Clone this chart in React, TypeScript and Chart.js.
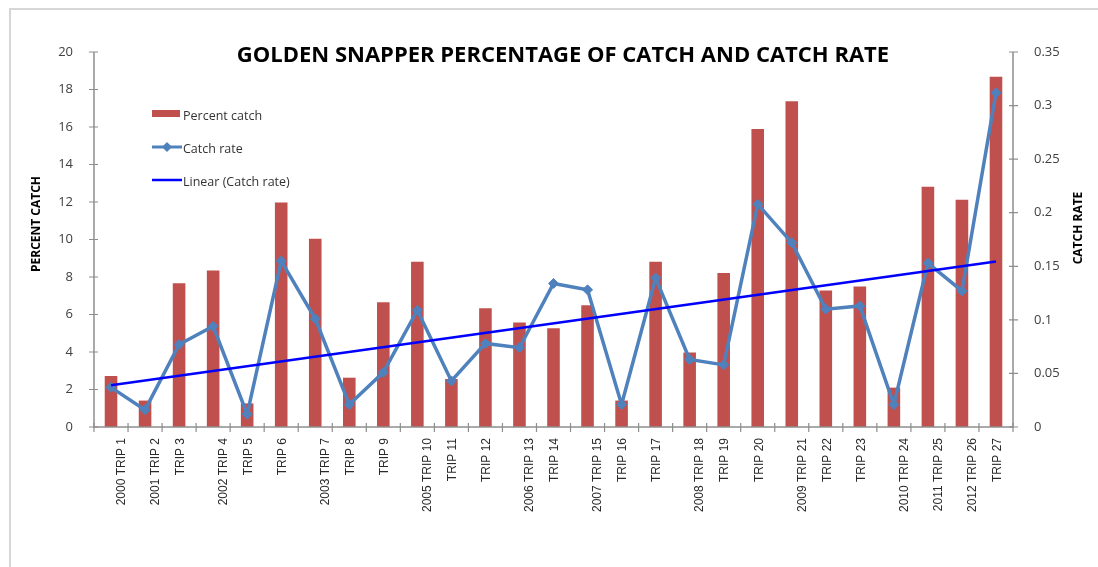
import React, { useEffect, useRef } from "react";
import { Chart, registerables } from "chart.js";

Chart.register(...registerables);

const categories = [
  "2000 TRIP 1", "2001 TRIP 2", "TRIP 3", "2002 TRIP 4", "TRIP 5", "TRIP 6",
  "2003 TRIP 7", "TRIP 8", "TRIP 9", "2005 TRIP 10", "TRIP 11", "TRIP 12",
  "2006 TRIP 13", "TRIP 14", "2007 TRIP 15", "TRIP 16", "TRIP 17", "2008 TRIP 18",
  "TRIP 19", "TRIP 20", "2009 TRIP 21", "TRIP 22", "TRIP 23", "2010 TRIP 24",
  "2011 TRIP 25", "2012 TRIP 26", "TRIP 27",
];

const percentCatch = [
  2.72, 1.41, 7.67, 8.35, 1.26, 11.98, 10.04, 2.63, 6.66, 8.81, 2.56, 6.34, 5.57,
  5.27, 6.5, 1.41, 8.81, 3.97, 8.21, 15.9, 17.37, 7.28, 7.49, 2.1, 12.82, 12.12, 18.68,
];

const catchRate = [
  0.037, 0.016, 0.077, 0.094, 0.012, 0.155, 0.101, 0.021, 0.051, 0.109, 0.043, 0.078,
  0.074, 0.134, 0.128, 0.021, 0.139, 0.063, 0.058, 0.208, 0.172, 0.11, 0.113, 0.021,
  0.153, 0.127, 0.312,
];

// Linear (Catch rate) trendline end points
const trendStart = 0.039;
const trendEnd = 0.1545;

const percentTicks = [0, 2, 4, 6, 8, 10, 12, 14, 16, 18, 20];
const rateTicks = ["0", "0.05", "0.1", "0.15", "0.2", "0.25", "0.3", "0.35"];

const chartTitle = "GOLDEN SNAPPER PERCENTAGE OF CATCH AND CATCH RATE";
const leftAxisTitle = "PERCENT CATCH";
const rightAxisTitle = "CATCH RATE";
const legendLabels = ["Percent catch", "Catch rate", "Linear (Catch rate)"];

const BAR_COLOR = "#c0504d";
const LINE_COLOR = "#4f81bd";
const TREND_COLOR = "#0000ff";
const AXIS_COLOR = "#8e8e8e";
const TEXT_COLOR = "#404040";
const FONT = "'Open Sans', 'Liberation Sans', sans-serif";

const W = 1098;
const H = 567;

const decorPlugin = {
  id: "decor",
  afterDraw(chart: any) {
    const { ctx, chartArea: ca, scales } = chart;
    const xs = scales.x;
    const ys = scales.y;
    const ys1 = scales.y1;
    ctx.save();

    // axes lines
    ctx.strokeStyle = AXIS_COLOR;
    ctx.lineWidth = 1.5;
    ctx.beginPath();
    ctx.moveTo(ca.left, ca.top);
    ctx.lineTo(ca.left, ca.bottom);
    ctx.lineTo(ca.right, ca.bottom);
    ctx.lineTo(ca.right, ca.top);
    ctx.stroke();

    // cross tick marks
    ctx.lineWidth = 1.2;
    ctx.beginPath();
    percentTicks.forEach((v) => {
      const py = ys.getPixelForValue(v);
      ctx.moveTo(ca.left - 5, py);
      ctx.lineTo(ca.left + 4, py);
    });
    rateTicks.forEach((t) => {
      const py = ys1.getPixelForValue(parseFloat(t));
      ctx.moveTo(ca.right - 4, py);
      ctx.lineTo(ca.right + 5, py);
    });
    for (let i = 0; i <= categories.length; i++) {
      const px = xs.getPixelForValue(i - 0.5);
      ctx.moveTo(px, ca.bottom - 4);
      ctx.lineTo(px, ca.bottom + 5);
    }
    ctx.stroke();

    // x category labels (rotated)
    ctx.fillStyle = "#2a2a2a";
    ctx.font = "12px 'Liberation Sans', Arial, sans-serif";
    ctx.textAlign = "right";
    ctx.textBaseline = "middle";
    categories.forEach((label, i) => {
      const shift = /^\d/.test(label) ? 10.5 : 1.5;
      const px = xs.getPixelForValue(i) + shift;
      ctx.save();
      ctx.translate(px, ca.bottom + 11);
      ctx.rotate(-Math.PI / 2);
      ctx.fillText(label, 0, 0);
      ctx.restore();
    });

    // title
    ctx.fillStyle = "#000000";
    ctx.font = `bold 22px ${FONT}`;
    ctx.textAlign = "center";
    ctx.textBaseline = "middle";
    ctx.fillText(chartTitle, 563, 56);

    // axis titles
    ctx.font = `bold 12px ${FONT}`;
    ctx.fillStyle = "#000000";
    ctx.save();
    ctx.translate(37, 224);
    ctx.rotate(-Math.PI / 2);
    ctx.fillText(leftAxisTitle, 0, 0);
    ctx.restore();
    ctx.save();
    ctx.translate(1079, 228);
    ctx.rotate(-Math.PI / 2);
    ctx.fillText(rightAxisTitle, 0, 0);
    ctx.restore();

    // legend
    ctx.fillStyle = BAR_COLOR;
    ctx.fillRect(152, 110, 28, 7);
    ctx.strokeStyle = LINE_COLOR;
    ctx.lineWidth = 3;
    ctx.beginPath();
    ctx.moveTo(152, 147);
    ctx.lineTo(182, 147);
    ctx.stroke();
    ctx.fillStyle = LINE_COLOR;
    ctx.beginPath();
    ctx.moveTo(167, 142);
    ctx.lineTo(172, 147);
    ctx.lineTo(167, 152);
    ctx.lineTo(162, 147);
    ctx.closePath();
    ctx.fill();
    ctx.strokeStyle = TREND_COLOR;
    ctx.lineWidth = 2.5;
    ctx.beginPath();
    ctx.moveTo(152, 180);
    ctx.lineTo(182, 180);
    ctx.stroke();

    ctx.fillStyle = "#333333";
    ctx.font = `12.5px ${FONT}`;
    ctx.textAlign = "left";
    ctx.textBaseline = "middle";
    ctx.fillText(legendLabels[0], 183, 116);
    ctx.fillText(legendLabels[1], 183, 149);
    ctx.fillText(legendLabels[2], 183, 182);

    ctx.restore();
  },
};

export default function App() {
  const canvasRef = useRef<HTMLCanvasElement | null>(null);

  useEffect(() => {
    const canvas = canvasRef.current;
    if (!canvas) return;
    const chart = new Chart(canvas, {
      type: "bar",
      data: {
        labels: categories,
        datasets: [
          {
            type: "line",
            label: legendLabels[2],
            data: [
              { x: categories[0], y: trendStart },
              { x: categories[categories.length - 1], y: trendEnd },
            ] as any,
            yAxisID: "y1",
            borderColor: TREND_COLOR,
            borderWidth: 2.5,
            pointRadius: 0,
            fill: false,
            order: 0,
          },
          {
            type: "line",
            label: legendLabels[1],
            data: catchRate,
            yAxisID: "y1",
            borderColor: LINE_COLOR,
            backgroundColor: LINE_COLOR,
            borderWidth: 3.5,
            pointStyle: "rectRot",
            pointRadius: 5,
            pointBorderWidth: 1,
            pointBackgroundColor: LINE_COLOR,
            pointBorderColor: LINE_COLOR,
            tension: 0,
            fill: false,
            order: 1,
          },
          {
            type: "bar",
            label: legendLabels[0],
            data: percentCatch,
            yAxisID: "y",
            backgroundColor: BAR_COLOR,
            barPercentage: 0.37,
            categoryPercentage: 1,
            order: 2,
          },
        ] as any,
      },
      options: {
        animation: false,
        responsive: false,
        maintainAspectRatio: false,
        layout: { padding: { top: 52, left: 0, right: 0, bottom: 0 } },
        plugins: {
          legend: { display: false },
          tooltip: { enabled: false },
          title: { display: false },
        },
        scales: {
          x: {
            type: "category",
            offset: true,
            grid: { display: false },
            border: { display: false },
            ticks: { display: false },
            afterFit: (s: any) => {
              s.height = 140;
            },
          },
          y: {
            position: "left",
            min: 0,
            max: 20,
            grid: { display: false },
            border: { display: false },
            ticks: {
              stepSize: 2,
              padding: 13,
              color: TEXT_COLOR,
              font: { family: FONT, size: 13 },
            },
            afterFit: (s: any) => {
              s.width = 94;
            },
          },
          y1: {
            position: "right",
            min: 0,
            max: 0.35,
            grid: { display: false },
            border: { display: false },
            ticks: {
              stepSize: 0.05,
              padding: 13,
              color: TEXT_COLOR,
              font: { family: FONT, size: 13 },
              callback: (_v: any, i: number) => rateTicks[i],
            },
            afterFit: (s: any) => {
              s.width = W - 1013;
            },
          },
        } as any,
      },
      plugins: [decorPlugin],
    });
    return () => chart.destroy();
  }, []);

  return (
    <div
      style={{
        position: "fixed",
        left: 0,
        top: 0,
        width: W,
        height: H,
        overflow: "hidden",
        background: "#ffffff",
      }}
    >
      <div
        style={{
          position: "absolute",
          left: 9,
          top: 8,
          width: W + 50,
          height: H + 50,
          borderTop: "2px solid #d6d6d6",
          borderLeft: "2px solid #d6d6d6",
        }}
      />
      <canvas
        ref={canvasRef}
        width={W}
        height={H}
        style={{ position: "absolute", left: 0, top: 0, width: W, height: H }}
      />
    </div>
  );
}
